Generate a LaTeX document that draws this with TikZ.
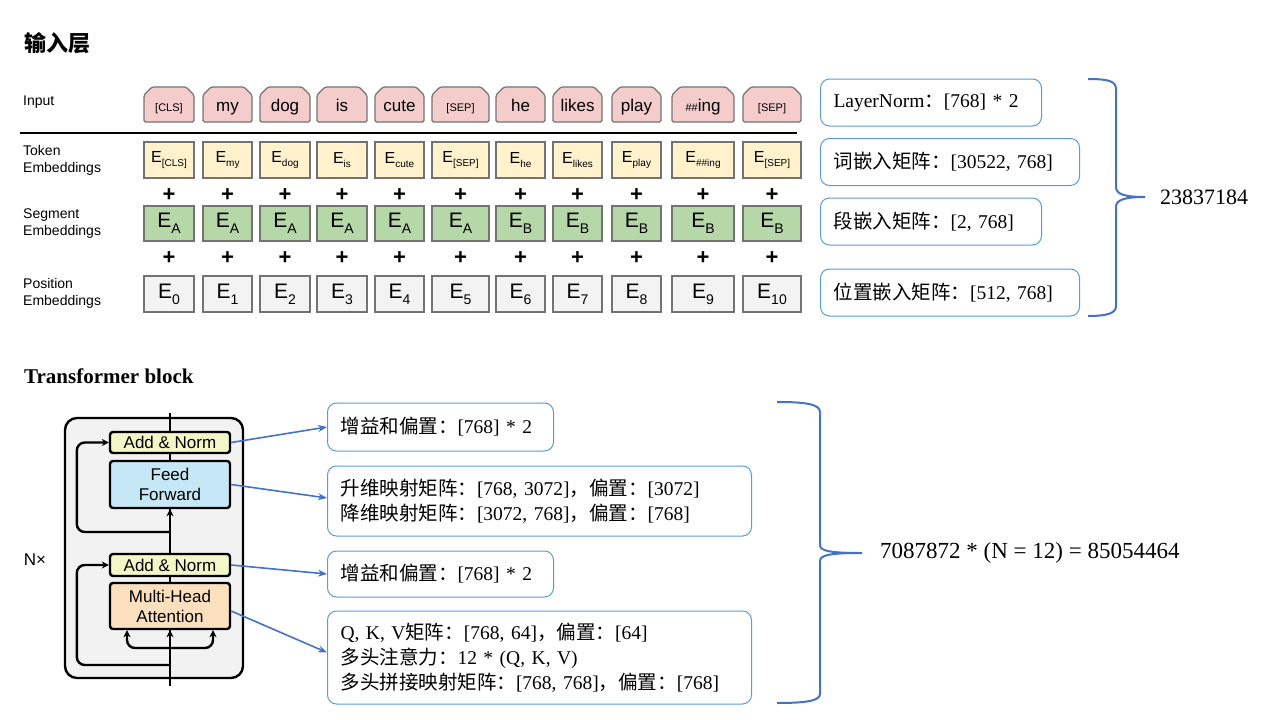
\documentclass[tikz,border=0pt]{standalone}
\usepackage{fontspec}
\setmainfont{Liberation Serif}
\setsansfont{Liberation Sans}
\newfontfamily\cjk{Noto Sans CJK SC}
\usepackage{tikz}
\usetikzlibrary{positioning, arrows.meta}

\definecolor{inpink}{HTML}{F4CCCC}
\definecolor{tokyel}{HTML}{FFF2CC}
\definecolor{seggrn}{HTML}{B6D7A8}
\definecolor{posgry}{HTML}{F3F3F3}
\definecolor{boxline}{HTML}{5B9BD5}
\definecolor{braceblue}{HTML}{4472C4}
\definecolor{addnorm}{HTML}{F3F6C6}
\definecolor{ffblue}{HTML}{C6E7F5}
\definecolor{mhaorange}{HTML}{FCE0BE}
\definecolor{blockgray}{HTML}{F2F2F2}

\newcommand{\smalltok}[1]{{\fontsize{11}{11}\selectfont #1}}
\newcommand{\Etok}[1]{E\raisebox{-4pt}{\fontsize{10}{10}\selectfont #1}}
\newcommand{\Ebig}[1]{E\raisebox{-6pt}{\fontsize{14}{14}\selectfont #1}}

\begin{document}
\begin{tikzpicture}[x=1pt, y=-1pt,
    tokbox/.style={draw=black!55, line width=1.2pt, inner sep=0pt, minimum height=35pt, font=\sffamily\fontsize{17}{17}\selectfont},
    inshape/.style={draw=black!55, line width=1.2pt, fill=inpink, rounded corners=1.5pt},
    rowlabel/.style={anchor=west, align=left, inner sep=0pt, font=\sffamily\fontsize{14}{17}\selectfont},
    plussign/.style={inner sep=0pt, font=\sffamily\bfseries\fontsize{22}{22}\selectfont},
    note/.style={draw=boxline, line width=1pt, rounded corners=9pt, anchor=west, align=left, inner xsep=13pt, inner ysep=0pt, font=\fontsize{19.5}{25}\selectfont},
    brace/.style={draw=braceblue, line width=2pt},
    blk/.style={draw, line width=2.4pt, rounded corners=3pt, minimum width=120pt, inner sep=0pt, align=center, font=\sffamily\fontsize{17}{20}\selectfont},
    flow/.style={line width=2.4pt, -{Stealth[length=7pt, width=7pt]}},
    link/.style={draw=braceblue, line width=1.6pt, -{Stealth[length=9pt, width=7pt]}}]
  \useasboundingbox (0,0) rectangle (1280,720);

  % input layer
  \node [right, inner sep=0pt, font=\cjk\bfseries\fontsize{22}{22}\selectfont] (titleA) at (24,43) {输入层};
  \node [rowlabel] (lblin) at (23,102) {Input};
  \node [rowlabel] (lbltok) at (23,160.5) {Token\\Embeddings};
  \node [rowlabel] (lblseg) at (23,223.5) {Segment\\Embeddings};
  \node [rowlabel] (lblpos) at (23,293.5) {Position\\Embeddings};
  \draw [line width=2.5pt] (20,133) -- (797,133);     % separator under the inputs

  \foreach \l/\r/\tok/\sub/\seg/\num [count=\i] in {
      144/194/{\smalltok{[CLS]}}/{[CLS]}/A/0,
      203/252/my/my/A/1,
      260/310/dog/dog/A/2,
      317/367/is/is/A/3,
      375/424/cute/cute/A/4,
      432/489/{\smalltok{[SEP]}}/{[SEP]}/A/5,
      496/545/he/he/B/6,
      553/602/likes/likes/B/7,
      612/661/play/play/B/8,
      672/734/{\smalltok{\#\#}ing}/{\#\#ing}/B/9,
      743/801/{\smalltok{[SEP]}}/{[SEP]}/B/10} {
    \pgfmathsetmacro\cx{(\l+\r)/2}
    \pgfmathsetmacro\w{\r-\l}
    \draw [inshape] (\l,122) -- (\l,95) -- ({\l+8},87) -- ({\r-8},87) -- (\r,95) -- (\r,122) -- cycle;
    \node [tokbox, draw=none, minimum height=0pt, anchor=base] (in\i) at (\cx,111.5) {\tok};
    \node [tokbox, fill=tokyel, minimum width=\w pt, minimum height=36pt, font=\sffamily\fontsize{16}{16}\selectfont] (tok\i) at (\cx,160) {\Etok{\sub}};
    \node [plussign] (plusA\i) at (\cx,195) {+};
    \node [tokbox, fill=seggrn, minimum width=\w pt, font=\sffamily\fontsize{21}{21}\selectfont] (seg\i) at (\cx,223.5) {\Ebig{\seg}};
    \node [plussign] (plusB\i) at (\cx,258) {+};
    \node [tokbox, fill=posgry, minimum width=\w pt, minimum height=36pt, font=\sffamily\fontsize{21}{21}\selectfont] (pos\i) at (\cx,294) {\Ebig{\num}};
  }

  \node [note, text width=195pt, minimum height=47pt] (normA) at (820,102.5) {LayerNorm{\cjk ：}[768] * 2};
  \node [note, text width=233pt, minimum height=47pt] (wordA) at (820,162) {{\cjk 词嵌入矩阵：}[30522, 768]};
  \node [note, text width=195pt, minimum height=47pt] (segA) at (820,221.5) {{\cjk 段嵌入矩阵：}[2, 768]};
  \node [note, text width=233pt, minimum height=47pt] (posA) at (820,292.5) {{\cjk 位置嵌入矩阵：}[512, 768]};
  \draw [brace] (1088,79) .. controls (1108,79) and (1116,81) .. (1116,89) -- (1116,187)
    .. controls (1116,194) and (1124,197) .. (1145,197)
    .. controls (1124,197) and (1116,200) .. (1116,207) -- (1116,306)
    .. controls (1116,313) and (1108,316) .. (1088,316);
  \node [right, inner sep=0pt, font=\fontsize{22}{22}\selectfont] (sumA) at (1160,197) {23837184};

  % transformer block
  \node [right, inner sep=0pt, font=\bfseries\fontsize{21}{21}\selectfont] (titleB) at (24,376) {Transformer block};
  \draw [line width=2.4pt, fill=blockgray, rounded corners=12pt] (65,418) rectangle (243,678);   % block frame
  \node [font=\sffamily\fontsize{17}{17}\selectfont, inner sep=0pt] (nx) at (35,560) {N×};
  \coordinate (blkin) at (170,686);
  \coordinate (blkout) at (170,413);
  \coordinate (resA) at (170,532);
  \coordinate (resB) at (170,665);
  \coordinate (split) at (170,648);
  \draw [line width=2.4pt] (blkin) -- (blkout);     % main path behind the sublayers
  \node [blk, fill=addnorm, minimum height=21pt] (addA) at (170,442.5) {Add \& Norm};
  \node [blk, fill=ffblue, minimum height=47pt] (ff) at (170,484.5) {Feed\\Forward};
  \node [blk, fill=addnorm, minimum height=22pt] (addB) at (170,565) {Add \& Norm};
  \node [blk, fill=mhaorange, minimum height=46pt] (mha) at (170,606) {Multi-Head\\Attention};
  \draw [flow] (resA) -- (ff.south);
  \draw [flow] (split) -- (mha.south);
  \draw [flow, rounded corners=8pt] (resA) -| ([xshift=-32pt]addA.west) -- (addA.west);
  \draw [flow, rounded corners=8pt] (resB) -| ([xshift=-32pt]addB.west) -- (addB.west);
  \draw [flow, rounded corners=8pt] (split) -| ([xshift=-43pt]mha.south);
  \draw [flow, rounded corners=8pt] (split) -| ([xshift=43pt]mha.south);

  \node [note, text width=200pt, minimum height=48pt] (noteA) at (327,427) {{\cjk 增益和偏置：}[768] * 2};
  \node [note, text width=398pt, minimum height=70pt] (noteB) at (327,501) {{\cjk 升维映射矩阵：}[768, 3072]{\cjk ，偏置：}[3072]\\{\cjk 降维映射矩阵：}[3072, 768]{\cjk ，偏置：}[768]};
  \node [note, text width=200pt, minimum height=46pt] (noteC) at (327,574) {{\cjk 增益和偏置：}[768] * 2};
  \node [note, text width=398pt, minimum height=93pt] (noteD) at (327,657.5) {Q, K, V{\cjk 矩阵：}[768, 64]{\cjk ，偏置：}[64]\\{\cjk 多头注意力：}12 * (Q, K, V)\\{\cjk 多头拼接映射矩阵：}[768, 768]{\cjk ，偏置：}[768]};
  \draw [link] (addA.east) -- (noteA.west);
  \draw [link] (ff.east) -- ([yshift=3pt]noteB.west);
  \draw [link] (addB.east) -- (noteC.west);
  \draw [link] ([yshift=-5pt]mha.east) -- ([yshift=5pt]noteD.west);
  \draw [brace] (777,402) .. controls (805,402) and (820,404) .. (820,412) -- (820,545)
    .. controls (820,551) and (830,553) .. (862,553)
    .. controls (830,553) and (820,555) .. (820,561) -- (820,694)
    .. controls (820,701) and (805,703) .. (777,703);
  \node [right, inner sep=0pt, font=\fontsize{23}{23}\selectfont] (sumB) at (880,553) {7087872 * (N = 12) = 85054464};
\end{tikzpicture}
\end{document}
